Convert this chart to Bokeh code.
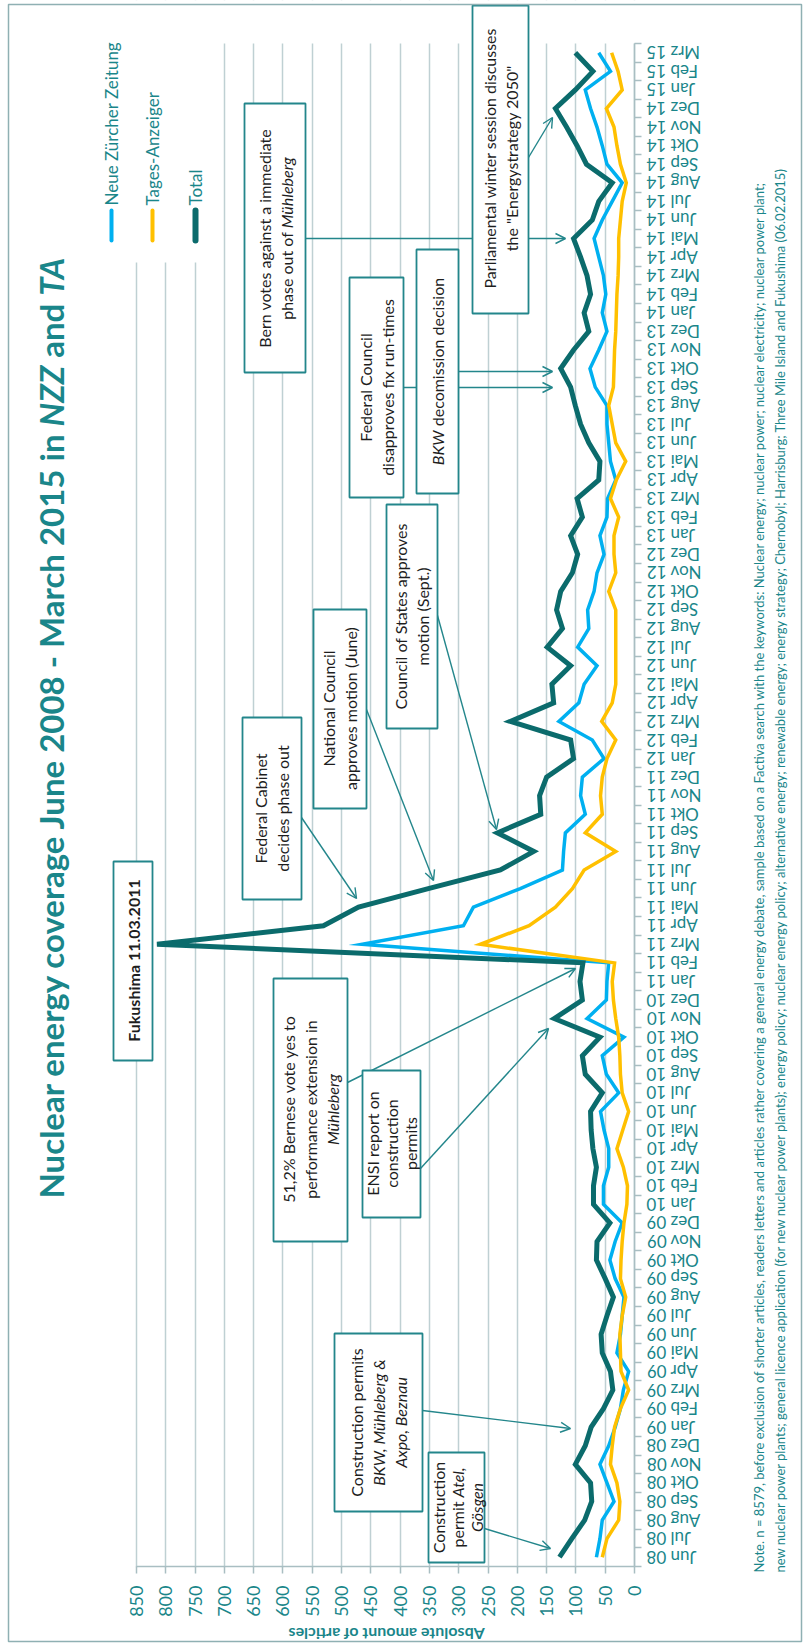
import math, glob, os
from bokeh.plotting import figure
from bokeh.models import (Range1d, FixedTicker, Label, LabelSet, Arrow, OpenHead,
                          BoxAnnotation, ColumnDataSource)
from bokeh.core.properties import value
from bokeh.embed import file_html
from bokeh.resources import INLINE

# ---------------- data ----------------
months = ["Jun 08", "Jul 08", "Aug 08", "Sep 08", "Okt 08", "Nov 08", "Dez 08",
          "Jan 09", "Feb 09", "Mrz 09", "Apr 09", "Mai 09", "Jun 09", "Jul 09", "Aug 09", "Sep 09", "Okt 09", "Nov 09", "Dez 09",
          "Jan 10", "Feb 10", "Mrz 10", "Apr 10", "Mai 10", "Jun 10", "Jul 10", "Aug 10", "Sep 10", "Okt 10", "Nov 10", "Dez 10",
          "Jan 11", "Feb 11", "Mrz 11", "Apr 11", "Mai 11", "Jun 11", "Jul 11", "Aug 11", "Sep 11", "Okt 11", "Nov 11", "Dez 11",
          "Jan 12", "Feb 12", "Mrz 12", "Apr 12", "Mai 12", "Jun 12", "Jul 12", "Aug 12", "Sep 12", "Okt 12", "Nov 12", "Dez 12",
          "Jan 13", "Feb 13", "Mrz 13", "Apr 13", "Mai 13", "Jun 13", "Jul 13", "Aug 13", "Sep 13", "Okt 13", "Nov 13", "Dez 13",
          "Jan 14", "Feb 14", "Mrz 14", "Apr 14", "Mai 14", "Jun 14", "Jul 14", "Aug 14", "Sep 14", "Okt 14", "Nov 14", "Dez 14",
          "Jan 15", "Feb 15", "Mrz 15"]

nzz = [65, 59, 55, 35, 47, 59, 44,
       33, 24, 19, 10, 30, 24, 21, 18, 33, 42, 33, 21,
       53, 53, 44, 44, 52, 58, 27, 48, 55, 18, 81, 48,
       47, 44, 465, 292, 275, 195, 123, 121, 118, 84, 92, 89,
       52, 72, 129, 95, 86, 64, 97, 78, 80, 69, 64, 52,
       59, 47, 46, 32, 41, 44, 47, 47, 67, 76, 61, 47,
       55, 49, 53, 61, 69, 55, 38, 21, 47, 55, 64, 75,
       84, 41, 61]

ta = [55, 47, 27, 25, 30, 41, 38,
      34, 24, 10, 23, 24, 25, 21, 15, 24, 23, 21, 18,
      13, 12, 19, 30, 20, 10, 21, 24, 25, 27, 32, 36,
      38, 34, 263, 180, 135, 106, 86, 32, 84, 55, 58, 55,
      47, 32, 56, 38, 32, 32, 32, 32, 32, 44, 32, 35,
      35, 27, 41, 31, 15, 32, 38, 44, 36, 35, 34, 32,
      31, 30, 28, 27, 27, 24, 21, 14, 24, 30, 35, 48,
      21, 28, 39]

total = [128, 107, 85, 73, 75, 101, 84,
         74, 53, 37, 41, 55, 57, 47, 36, 50, 65, 64, 42,
         70, 70, 65, 71, 74, 75, 55, 84, 89, 59, 137, 89,
         93, 88, 815, 531, 471, 352, 229, 172, 234, 160, 162, 150,
         104, 109, 212, 138, 141, 109, 149, 123, 133, 126, 106, 97,
         109, 89, 98, 61, 59, 78, 92, 101, 109, 126, 104, 78,
         86, 75, 81, 92, 104, 72, 61, 38, 82, 98, 116, 135,
         101, 71, 101]

value_ticks = list(range(0, 851, 50))
series_names = ["Neue Zürcher Zeitung", "Tages-Anzeiger", "Total"]

# ---------------- text measuring (for mixed italic runs) ----------------
_font_files = {}
try:
    from PIL import ImageFont
    for d in ["/usr/share/fonts", "/usr/local/share/fonts",
              os.path.expanduser("~/.fonts"), os.path.expanduser("~/.local/share/fonts")]:
        for ext in ("ttf", "otf", "TTF", "OTF"):
            for f in glob.glob(os.path.join(d, "**", "*." + ext), recursive=True):
                _font_files[os.path.basename(f).lower()] = f
except Exception:
    ImageFont = None

STYLE_FILE = {"normal": "lato-regular", "bold": "lato-bold",
              "italic": "lato-italic", "bold italic": "lato-bolditalic"}
_font_cache = {}


def text_width(text, style, size):
    key = STYLE_FILE[style]
    path = None
    for ext in (".ttf", ".otf"):
        if key + ext in _font_files:
            path = _font_files[key + ext]
            break
    if path is not None and ImageFont is not None:
        try:
            k = (path, size)
            if k not in _font_cache:
                _font_cache[k] = ImageFont.truetype(path, int(size * 10))
            return _font_cache[k].getlength(text) / 10.0
        except Exception:
            pass
    return len(text) * size * 0.5


# ---------------- geometry (page pixels; the page has no margin) ----------------
W, H = 806, 1644
AX_L, AX_R, AX_T, AX_B = 136, 634, 43, 1566   # plot area: 850 .. 0, Mrz 15 .. Jun 08
PXU = (AX_R - AX_L) / 850.0
n = len(months)
ROW = (AX_B - AX_T) / n

TEAL = "#1a868a"
BOXC = "#23868b"
GRID = "#bfd0d3"
AXC = "#a9bec2"
C_NZZ = "#00b0f0"
C_TA = "#ffc000"
C_TOT = "#0b6b6c"
TX = "#1e1e1e"


def vx(px):
    return (AX_R - px) / PXU


def vy(py):
    return (AX_B - py) / ROW - 0.5


p = figure(width=W, height=H, output_backend="svg", toolbar_location=None,
           x_range=Range1d(vx(0), vx(W)), y_range=Range1d(vy(H), vy(0)),
           x_axis_location="below", y_axis_location="right",
           min_border=0, min_border_left=0, min_border_right=0,
           min_border_top=0, min_border_bottom=0)
p.outline_line_color = None
p.background_fill_color = "white"
p.border_fill_color = "white"

# value axis (drawn at the bottom of the plot area)
xa = p.xaxis[0]
xa.fixed_location = -0.5
xa.ticker = FixedTicker(ticks=value_ticks)
xa.bounds = (0, 850)
xa.major_label_orientation = math.pi / 2
xa.major_label_text_font = "Lato"
xa.major_label_text_font_size = "18px"
xa.major_label_text_color = TEAL
xa.major_label_standoff = 12
xa.axis_line_color = AXC
xa.axis_line_width = 1.5
xa.major_tick_line_color = AXC
xa.major_tick_line_width = 1.5
xa.major_tick_out = 7
xa.major_tick_in = 0
xa.minor_tick_line_color = None

p.xgrid.ticker = FixedTicker(ticks=value_ticks)
p.xgrid.grid_line_color = GRID
p.xgrid.grid_line_width = 1.5
p.ygrid.grid_line_color = None

# month axis (drawn at value 0, ticks between the months)
ya = p.yaxis[0]
ya.fixed_location = 0
ya.bounds = (-0.5, n - 0.5)
ya.ticker = FixedTicker(ticks=[], minor_ticks=[i - 0.5 for i in range(n + 1)])
ya.major_tick_line_color = None
ya.major_tick_out = 0
ya.major_tick_in = 0
ya.minor_tick_line_color = AXC
ya.minor_tick_line_width = 1.5
ya.minor_tick_out = 7
ya.minor_tick_in = 0
ya.axis_line_color = AXC
ya.axis_line_width = 1.5

# month labels, upside down as in the rotated original
msrc = ColumnDataSource(dict(x=[0] * n, y=list(range(n)), text=months))
p.add_layout(LabelSet(x="x", y="y", text="text", source=msrc, x_offset=12,
                      angle=math.pi, text_align="right", text_baseline="middle",
                      text_font=value("Lato"), text_font_size="17px", text_color=TEAL))

# white cover: grid only inside plot area, legend area hides the grid
for l_, r_, t_, b_ in [(120, 650, 0, AX_T), (120, 650, AX_B + 0.8, H), (96, 212, 0, 262)]:
    p.add_layout(BoxAnnotation(left=vx(l_), right=vx(r_), top=vy(t_), bottom=vy(b_),
                               fill_color="white", fill_alpha=1.0, line_color=None,
                               level="underlay"))

# ---------------- series ----------------
idx = list(range(n))
p.line(nzz, idx, line_color=C_NZZ, line_width=3.5, line_join="miter")
p.line(ta, idx, line_color=C_TA, line_width=3.5, line_join="miter")
p.line(total, idx, line_color=C_TOT, line_width=5, line_join="miter")

# legend swatches
for name, col, lw, px in zip(series_names, [C_NZZ, C_TA, C_TOT], [4, 4, 6], [111, 152, 195]):
    p.segment(x0=[vx(px)], y0=[vy(240)], x1=[vx(px)], y1=[vy(210)],
              line_color=col, line_width=lw, line_cap="round")


def label(text, px, py, size, style="normal", color=TEAL, angle=math.pi / 2, align="left"):
    p.add_layout(Label(x=vx(px), y=vy(py), text=text, angle=angle,
                       text_align=align, text_baseline="middle",
                       text_font="Lato", text_font_style=style,
                       text_font_size=f"{size}px", text_color=color))


def run(segments, px, py_center, size, color=TX, start=None):
    """Text reading bottom-to-top, built of differently styled pieces."""
    widths = [text_width(t, s, size) for t, s in segments]
    tot = sum(widths)
    y0 = start if start is not None else py_center + tot / 2.0
    acc = 0.0
    for (t, s), w in zip(segments, widths):
        lead = len(t) - len(t.lstrip(" "))
        off = text_width(" " * lead, s, size) if lead else 0.0
        label(t.strip(" "), px, y0 - acc - off, size, s, color)
        acc += w


for name, px in zip(series_names, [111, 152, 195]):
    label(name, px, 205, 17)

# ---------------- arrows ----------------
def arrow(x0, y0, x1, y1):
    p.add_layout(Arrow(end=OpenHead(size=10, line_color=BOXC, line_width=1.4),
                       x_start=vx(x0), y_start=vy(y0), x_end=vx(x1), y_end=vy(y1),
                       line_color=BOXC, line_width=1.4))


arrow(301, 817, 356, 898)      # Federal Cabinet
arrow(366, 709, 433, 880)      # National Council
arrow(437, 615, 496, 829)      # Council of States
arrow(403, 387, 552, 387)      # Federal Council
arrow(458, 371, 552, 371)      # BKW
arrow(305, 238, 565, 238)      # Bern
arrow(528, 157, 552, 117)      # Parliament
arrow(347, 1082, 575, 968)     # 51,2%
arrow(420, 1168, 548, 1028)    # ENSI
arrow(422, 1410, 570, 1428)    # construction permits
arrow(484, 1528, 550, 1548)    # construction permit Atel

# ---------------- boxes ----------------
def box(x0, x1, y0, y1):
    p.add_layout(BoxAnnotation(left=vx(x0), right=vx(x1), top=vy(y0), bottom=vy(y1),
                               fill_color="white", fill_alpha=1.0,
                               line_color=BOXC, line_alpha=1.0, line_width=1.8))


box(113, 152, 861, 1060)
box(242, 301, 717, 899)
box(313, 366, 609, 808)
box(386, 437, 504, 728)
box(349, 403, 277, 497)
box(416, 458, 249, 493)
box(244, 305, 103, 372)
box(472, 528, 5, 313)
box(273, 347, 978, 1241)
box(362, 420, 1070, 1217)
box(334, 422, 1333, 1511)
box(428, 484, 1452, 1562)

N, I, B = "normal", "italic", "bold"
FS = 16
run([("Fukushima 11.03.2011", B)], 133, 960, 16)
run([("Federal Cabinet", N)], 260, 808, FS)
run([("decides phase out", N)], 282, 808, FS)
run([("National Council", N)], 328, 708, FS)
run([("approves motion (June)", N)], 350, 708, FS)
run([("Council of States approves", N)], 400, 616, FS)
run([("motion (Sept.)", N)], 422, 616, FS)
run([("Federal Council", N)], 365, 387, FS)
run([("disapproves fix run-times", N)], 387, 387, FS)
run([("BKW", I), (" decomission decision", N)], 437, 371, FS)
run([("Bern votes against a immediate", N)], 264, 238, FS)
run([("phase out of ", N), ("Mühleberg", I)], 286, 238, FS)
run([("Parliamental winter session discusses", N)], 489, 158, FS)
run([("the \"Energystrategy 2050\"", N)], 511, 158, FS)
run([("51,2% Bernese vote yes to", N)], 288, 1109, FS)
run([("performance extension in", N)], 310, 1109, FS)
run([("Mühleberg", I)], 332, 1109, FS)
run([("ENSI report on", N)], 372, 1143, FS)
run([("construction", N)], 391, 1143, FS)
run([("permits", N)], 410, 1143, FS)
run([("Construction permits", N)], 356, 1422, FS)
run([("BKW, Mühleberg &", I)], 378, 1422, FS)
run([("Axpo, Beznau", I)], 400, 1422, FS)
run([("Construction", N)], 438, 1507, FS)
run([("permit ", N), ("Atel,", I)], 457, 1507, FS)
run([("Gösgen", I)], 476, 1507, FS)

# ---------------- title, axis title, note ----------------
run([("Nuclear energy coverage June 2008 - March 2015 in ", B), ("NZZ", "bold italic"),
     (" and ", B), ("TA", "bold italic")], 50, 0, 33, TEAL, start=1198)

label("Absolute amount of articles", 386, 1634, 16, "bold", TEAL, angle=math.pi, align="center")

note1 = ("Note. n = 8579, before exclusion of shorter articles, readers letters and articles rather covering a "
         "general energy debate, sample based on a Factiva search with the keywords: Nuclear energy; nuclear power; "
         "nuclear electricity; nuclear power plant;")
note2 = ("new nuclear power plants; general licence application (for new nuclear power plants); energy policy; "
         "nuclear energy policy; alternative energy; renewable energy; energy strategy; Chernobyl; Harrisburg; "
         "Three Mile Island and Fukushima (06.02.2015)")
label(note1, 758, 1572, 13)
label(note2, 779, 1572, 13)

# outer frame of the figure
p.add_layout(BoxAnnotation(left=vx(8), right=vx(801), top=vy(4), bottom=vy(1641),
                           fill_alpha=0.0, line_color="#8fb0b3", line_alpha=1.0, line_width=1.5))

open("out.html", "w").write(file_html(p, INLINE))
